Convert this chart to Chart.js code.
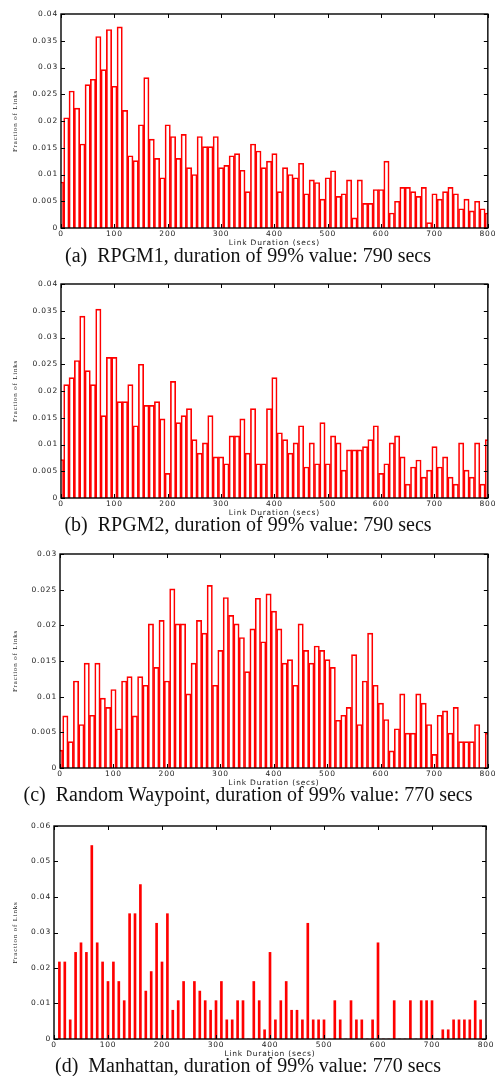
<!DOCTYPE html>
<html>
<head>
<meta charset="utf-8">
<title>Link duration histograms</title>
<script src="https://cdn.jsdelivr.net/npm/chart.js@4.4.1/dist/chart.umd.min.js"></script>
<style>
  body { margin: 0; background: #fff; width: 497px; height: 1076px; position: relative; overflow: hidden; }
  canvas { position: absolute; left: 0; }
  .caption {
    position: absolute; left: 0; width: 496px; text-align: center;
    font-family: "Liberation Serif", "Times New Roman", serif;
    font-size: 20px; line-height: 20px; color: #111; white-space: pre;
  }
</style>
</head>
<body>
<canvas id="rpgm1" width="497" height="244" style="top:4px"></canvas>
<div class="caption" style="top:245px">(a)  RPGM1, duration of 99% value: 790 secs</div>

<canvas id="rpgm2" width="497" height="244" style="top:274px"></canvas>
<div class="caption" style="top:514px">(b)  RPGM2, duration of 99% value: 790 secs</div>

<canvas id="waypoint" width="497" height="244" style="top:544px"></canvas>
<div class="caption" style="top:784px">(c)  Random Waypoint, duration of 99% value: 770 secs</div>

<canvas id="manhattan" width="497" height="243" style="top:816px"></canvas>
<div class="caption" style="top:1055px">(d)  Manhattan, duration of 99% value: 770 secs</div>

<script>
// link duration bins (secs)
const durationBins = [
  0, 10, 20, 30, 40, 50, 60, 70, 80, 90,
  100, 110, 120, 130, 140, 150, 160, 170, 180, 190,
  200, 210, 220, 230, 240, 250, 260, 270, 280, 290,
  300, 310, 320, 330, 340, 350, 360, 370, 380, 390,
  400, 410, 420, 430, 440, 450, 460, 470, 480, 490,
  500, 510, 520, 530, 540, 550, 560, 570, 580, 590,
  600, 610, 620, 630, 640, 650, 660, 670, 680, 690,
  700, 710, 720, 730, 740, 750, 760, 770, 780, 790,
  800
]

// fraction of links per bin
const rpgm1 = [
  0.0086, 0.0206, 0.0256, 0.0224, 0.0157, 0.0268, 0.0278, 0.0358, 0.0296, 0.0371,
  0.0265, 0.0376, 0.0220, 0.0135, 0.0126, 0.0193, 0.0281, 0.0166, 0.0130, 0.0094,
  0.0193, 0.0171, 0.0130, 0.0175, 0.0113, 0.0100, 0.0171, 0.0152, 0.0152, 0.0171,
  0.0113, 0.0117, 0.0135, 0.0139, 0.0108, 0.0068, 0.0157, 0.0144, 0.0113, 0.0125,
  0.0139, 0.0068, 0.0113, 0.0100, 0.0094, 0.0121, 0.0064, 0.0090, 0.0085, 0.0054,
  0.0094, 0.0107, 0.0059, 0.0064, 0.0090, 0.0019, 0.0090, 0.0046, 0.0046, 0.0072,
  0.0072, 0.0125, 0.0028, 0.0050, 0.0076, 0.0076, 0.0068, 0.0059, 0.0076, 0.0010,
  0.0064, 0.0054, 0.0068, 0.0076, 0.0064, 0.0036, 0.0054, 0.0032, 0.0050, 0.0036,
  0.0028
]

const rpgm2 = [
  0.0072, 0.0212, 0.0225, 0.0257, 0.0340, 0.0238, 0.0212, 0.0353, 0.0154, 0.0263,
  0.0263, 0.0180, 0.0180, 0.0212, 0.0135, 0.0250, 0.0173, 0.0173, 0.0180, 0.0148,
  0.0046, 0.0218, 0.0141, 0.0154, 0.0167, 0.0109, 0.0084, 0.0103, 0.0154, 0.0077,
  0.0077, 0.0064, 0.0116, 0.0116, 0.0148, 0.0084, 0.0167, 0.0064, 0.0064, 0.0167,
  0.0225, 0.0122, 0.0109, 0.0084, 0.0103, 0.0135, 0.0058, 0.0103, 0.0064, 0.0141,
  0.0064, 0.0116, 0.0103, 0.0052, 0.0090, 0.0090, 0.0090, 0.0096, 0.0109, 0.0135,
  0.0046, 0.0064, 0.0103, 0.0116, 0.0077, 0.0026, 0.0058, 0.0071, 0.0039, 0.0052,
  0.0096, 0.0058, 0.0077, 0.0039, 0.0026, 0.0103, 0.0052, 0.0039, 0.0103, 0.0026,
  0.0109
]

const waypoint = [
  0.0025, 0.0073, 0.0037, 0.0122, 0.0061, 0.0147, 0.0074, 0.0147, 0.0098, 0.0085,
  0.0110, 0.0055, 0.0122, 0.0128, 0.0073, 0.0128, 0.0116, 0.0202, 0.0141, 0.0207,
  0.0122, 0.0251, 0.0202, 0.0202, 0.0104, 0.0147, 0.0207, 0.0189, 0.0256, 0.0116,
  0.0165, 0.0239, 0.0214, 0.0202, 0.0183, 0.0135, 0.0195, 0.0238, 0.0177, 0.0244,
  0.0220, 0.0195, 0.0147, 0.0152, 0.0116, 0.0202, 0.0165, 0.0147, 0.0171, 0.0165,
  0.0152, 0.0141, 0.0067, 0.0074, 0.0085, 0.0159, 0.0061, 0.0122, 0.0189, 0.0116,
  0.0091, 0.0068, 0.0024, 0.0055, 0.0104, 0.0049, 0.0049, 0.0104, 0.0091, 0.0061,
  0.0019, 0.0074, 0.0080, 0.0049, 0.0085, 0.0037, 0.0037, 0.0037, 0.0061, 0,
  0.0049
]

const manhattan = [
  0, 0.0217, 0.0217, 0.0054, 0.0244, 0.0271, 0.0244, 0.0545, 0.0271, 0.0217,
  0.0162, 0.0217, 0.0162, 0.0108, 0.0353, 0.0353, 0.0435, 0.0135, 0.0190, 0.0326,
  0.0217, 0.0353, 0.0081, 0.0108, 0.0162, 0, 0.0162, 0.0135, 0.0108, 0.0081,
  0.0108, 0.0162, 0.0054, 0.0054, 0.0108, 0.0108, 0, 0.0162, 0.0108, 0.0026,
  0.0244, 0.0054, 0.0108, 0.0162, 0.0081, 0.0081, 0.0054, 0.0326, 0.0054, 0.0054,
  0.0054, 0, 0.0108, 0.0054, 0, 0.0108, 0.0054, 0.0054, 0, 0.0054,
  0.0271, 0, 0, 0.0108, 0, 0, 0.0108, 0, 0.0108, 0.0108,
  0.0108, 0, 0.0026, 0.0026, 0.0054, 0.0054, 0.0054, 0.0054, 0.0108, 0.0054,
  0
]

const xTicks = { min: 0, max: 800, step: 100 }
const labelFont = { family: 'DejaVu Sans', size: 7.5 }
const labelColor = '#1a1a1a'

// gnuplot-style frame: closed border with ticks pointing inwards
const framePlugin = {
  id: 'frame',
  beforeDraw(chart) {
    chart.ctx.letterSpacing = '0.8px'
  },
  afterDatasetsDraw(chart) {
    const { ctx, chartArea: a, scales } = chart
    ctx.save()
    ctx.strokeStyle = '#000'
    ctx.lineWidth = 1
    ctx.beginPath()
    scales.x.ticks.forEach(t => {
      const px = Math.round(scales.x.getPixelForValue(t.value)) + 0.5
      ctx.moveTo(px, a.bottom); ctx.lineTo(px, a.bottom - 4)
      ctx.moveTo(px, a.top); ctx.lineTo(px, a.top + 4)
    })
    scales.y.ticks.forEach(t => {
      const py = Math.round(scales.y.getPixelForValue(t.value)) + 0.5
      ctx.moveTo(a.left, py); ctx.lineTo(a.left + 4, py)
      ctx.moveTo(a.right, py); ctx.lineTo(a.right - 4, py)
    })
    ctx.stroke()
    ctx.lineWidth = 1.4
    ctx.strokeRect(a.left, a.top, a.right - a.left, a.bottom - a.top)
    ctx.restore()
  }
}

function drawHistogram(id, values, opts) {
  const points = durationBins.map((x, i) => ({ x: x, y: values[i] }))
  const dataset = opts.thin
    ? { data: points, backgroundColor: '#f00', borderWidth: 0, barThickness: 2 }
    : { data: points, backgroundColor: 'rgba(0,0,0,0)', borderColor: '#f00', borderWidth: 1,
        barPercentage: 1, categoryPercentage: 1 }

  new Chart(document.getElementById(id), {
    type: 'bar',
    data: { datasets: [dataset] },
    plugins: [framePlugin],
    options: {
      responsive: false,
      animation: false,
      layout: { padding: { top: 10, right: opts.right, left: 0, bottom: 0 } },
      plugins: { legend: { display: false }, tooltip: { enabled: false } },
      scales: {
        x: {
          type: 'linear',
          min: xTicks.min,
          max: xTicks.max,
          offset: false,
          afterFit: s => { s.height = 20 },
          grid: { display: false, drawTicks: false },
          border: { display: false },
          ticks: {
            stepSize: xTicks.step, maxRotation: 0, autoSkip: false, padding: 2,
            color: labelColor, font: labelFont
          },
          title: {
            display: true, text: 'Link Duration (secs)', color: labelColor,
            font: labelFont, padding: { top: 0, bottom: 0 }
          }
        },
        y: {
          min: 0,
          max: opts.yMax,
          afterFit: s => { s.width = opts.left },
          grid: { display: false, drawTicks: false },
          border: { display: false },
          ticks: {
            stepSize: opts.yStep, padding: 3, color: labelColor, font: labelFont,
            callback: v => String(+v.toFixed(3))
          },
          title: {
            display: true, text: 'Fraction of Links', color: labelColor,
            font: { family: 'Liberation Sans Narrow', size: 7 }, padding: { top: 11, bottom: 0 }
          }
        }
      }
    }
  })
}

drawHistogram('rpgm1', rpgm1, { yMax: 0.04, yStep: 0.005, left: 61, right: 8 })
drawHistogram('rpgm2', rpgm2, { yMax: 0.04, yStep: 0.005, left: 61, right: 9 })
drawHistogram('waypoint', waypoint, { yMax: 0.03, yStep: 0.005, left: 60, right: 9 })
drawHistogram('manhattan', manhattan, { yMax: 0.06, yStep: 0.01, left: 54, right: 11, thin: true })
</script>
</body>
</html>
